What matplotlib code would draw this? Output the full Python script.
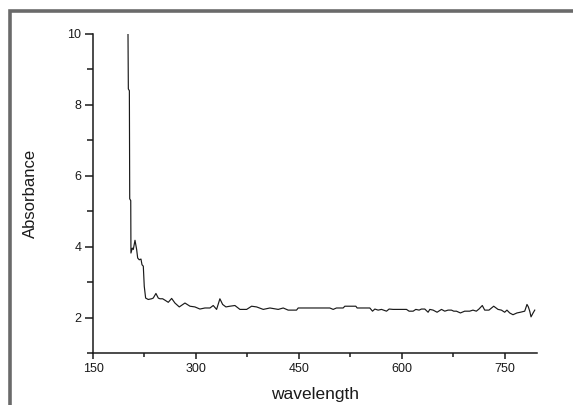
import matplotlib
matplotlib.use("Agg")
import matplotlib.pyplot as plt
from matplotlib.ticker import MultipleLocator
from matplotlib.patches import Rectangle

wavelength = [201, 201.5, 203, 203.5, 205, 205.3, 207.2, 208.7, 211.2, 213.6, 215.1,
              217.4, 219.9, 221.4, 223.3, 224.7, 226.7, 230.5, 235.4, 237.8, 241.7,
              245.1, 247.6, 251.5, 254.9, 259.7, 264.6, 269.4, 275.7, 284, 291.3,
              298.5, 305.8, 313.1, 320.4, 325.2, 330.1, 334.9, 338.9, 343.7, 349.5,
              356.8, 364.1, 373.9, 381.1, 388.4, 398.1, 407.8, 419.9, 427.2, 434.4,
              446.6, 449, 495.1, 500, 504.8, 514.5, 517, 533, 534.9, 553.4, 557.3,
              560.7, 565.5, 570.4, 577.7, 581.5, 587.3, 606.8, 610.6, 616.5, 620.4,
              625.2, 628.6, 633.5, 638.3, 640.8, 645.6, 651.4, 657.8, 662.6, 667.4,
              672.3, 675.7, 679.6, 685.4, 691.6, 698.9, 703.7, 708.6, 712.4, 717.3,
              720.8, 727, 733.9, 740.2, 745.1, 749.9, 753.2, 757.2, 762, 767.8,
              772.8, 779.1, 782.4, 784.4, 786.4, 788.3, 791.3, 793.7]
absorbance = [10.0, 8.45, 8.4, 5.35, 5.3, 3.82, 3.96, 3.92, 4.18, 3.92, 3.68,
              3.63, 3.65, 3.49, 3.45, 2.88, 2.55, 2.51, 2.53, 2.55, 2.68,
              2.55, 2.53, 2.53, 2.49, 2.43, 2.54, 2.41, 2.30, 2.41, 2.32,
              2.30, 2.24, 2.27, 2.27, 2.34, 2.23, 2.53, 2.37, 2.30, 2.32,
              2.34, 2.23, 2.23, 2.32, 2.30, 2.23, 2.27, 2.23, 2.27, 2.21,
              2.21, 2.27, 2.27, 2.23, 2.27, 2.27, 2.32, 2.32, 2.27, 2.27, 2.18,
              2.24, 2.21, 2.23, 2.18, 2.24, 2.23, 2.23, 2.18, 2.18, 2.23,
              2.21, 2.24, 2.24, 2.15, 2.23, 2.21, 2.15, 2.23, 2.18, 2.21,
              2.21, 2.18, 2.18, 2.13, 2.18, 2.18, 2.21, 2.18, 2.24, 2.34,
              2.21, 2.21, 2.32, 2.23, 2.21, 2.15, 2.21, 2.13, 2.08, 2.13,
              2.15, 2.18, 2.37, 2.30, 2.18, 2.02, 2.13, 2.21]

x_ticks = [150, 300, 450, 600, 750]
y_ticks = [2, 4, 6, 8, 10]

plt.rcParams['font.family'] = ['Liberation Sans', 'DejaVu Sans']

fig = plt.figure(figsize=(5.73, 4.05), dpi=100)
fig.patch.set_facecolor('white')

# grey frame (left and top edges visible)
frame = Rectangle((10 / 573, -0.2), 1.2, 1.2 - 11 / 405,
                  transform=fig.transFigure, fill=False,
                  edgecolor='#6a6a6a', linewidth=2.6, clip_on=False)
fig.patches.append(frame)

ax = fig.add_axes([93 / 573, 1 - 353 / 405, (537 - 93) / 573, (353 - 34) / 405])
ax.plot(wavelength, absorbance, color='#1a1a1a', linewidth=0.85)

ax.set_xlim(150, 797)
ax.set_ylim(1, 10)
ax.set_xticks(x_ticks)
ax.set_yticks(y_ticks)
ax.xaxis.set_minor_locator(MultipleLocator(75))
ax.yaxis.set_minor_locator(MultipleLocator(1))

for s in ['top', 'right']:
    ax.spines[s].set_visible(False)
for s in ['left', 'bottom']:
    ax.spines[s].set_linewidth(1.1)
    ax.spines[s].set_color('#1a1a1a')

ax.tick_params(axis='y', which='major', length=5.5, width=1.1, direction='out',
               labelsize=9, pad=3, colors='#1a1a1a')
ax.tick_params(axis='y', which='minor', length=4, width=1.1, direction='out',
               colors='#1a1a1a')
ax.tick_params(axis='x', which='major', length=4.5, width=1.1, direction='out',
               labelsize=9, pad=3, colors='#1a1a1a')
ax.tick_params(axis='x', which='minor', length=3, width=1.1, direction='out',
               colors='#1a1a1a')

ax.set_xlabel('wavelength', fontsize=12.5, color='#1a1a1a', labelpad=8)
ax.set_ylabel('Absorbance', fontsize=12, color='#1a1a1a', labelpad=21)

fig.savefig('out.png', dpi=100, facecolor='white')
